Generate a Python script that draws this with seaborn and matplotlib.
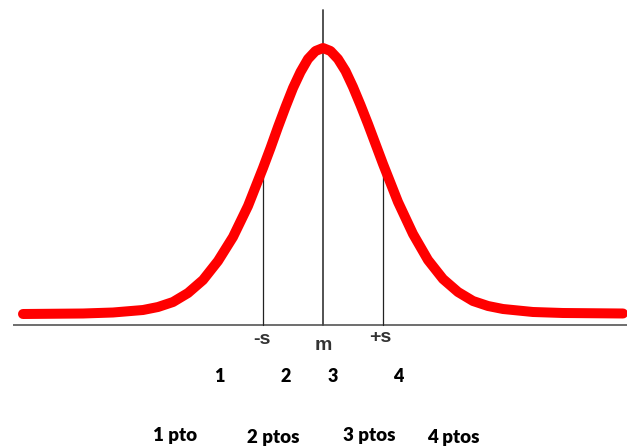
import matplotlib
matplotlib.use('Agg')
import numpy as np
import pandas as pd
import matplotlib.pyplot as plt
import seaborn as sns

# curve: x in standard deviations, height in pixels above the baseline
z = [-5.0, -4.0, -3.5, -3.0, -2.75, -2.5, -2.25, -2.0, -1.75, -1.5, -1.25, -1.0,
     -0.875, -0.75, -0.625, -0.5, -0.375, -0.25, -0.125, 0.0,
     0.125, 0.25, 0.375, 0.5, 0.625, 0.75, 0.875, 1.0,
     1.25, 1.5, 1.75, 2.0, 2.25, 2.5, 2.75, 3.0, 3.5, 4.0, 5.0]
height = [0, 0.5, 1.5, 4, 7, 12, 21, 34, 53, 77, 108, 146,
          166, 187, 207, 226, 242, 255, 263, 266,
          263, 255, 243, 227, 209, 190, 170, 150,
          112, 80, 54, 35, 22, 13, 8, 5, 2, 1, 0.5]

axis_labels = ["-s", "m", "+s"]
axis_label_x = [-1.02, 0.0, 0.95]
zone_numbers = ["1", "2", "3", "4"]
zone_x = [-1.72, -0.63, 0.17, 1.25]
point_labels = ["1 pto", "2 ptos", "3 ptos", "4 ptos"]
point_x = [-2.47, -0.83, 0.77, 2.17]

df = pd.DataFrame({"z": z, "h": height})

sns.set_style("white")
plt.rcParams['font.family'] = ['Lato', 'DejaVu Sans']

fig = plt.figure(figsize=(6.27, 4.46), dpi=100)
ax = fig.add_axes([0, 0, 1, 1])

# horizontal axis and the vertical guides
ax.plot([-5.17, 5.1], [-11, -11], color="#555555", lw=1.2, solid_capstyle="butt")
ax.plot([0, 0], [-11, 304], color="#444444", lw=1.3)
for s in (-1, 1):
    hs = np.interp(s, z, height)
    ax.plot([s, s], [-11, hs], color="#222222", lw=0.9)

sns.lineplot(data=df, x="z", y="h", ax=ax, color="#ff0000", lw=7.2,
             solid_capstyle="round", solid_joinstyle="round")

for lab, x, y in zip(axis_labels, axis_label_x, [-25, -32, -24]):
    ax.text(x, y, lab, ha="center", va="center", fontsize=14, fontweight="bold",
            color="#333333", family=['Liberation Sans', 'DejaVu Sans'])
for lab, x in zip(zone_numbers, zone_x):
    ax.text(x, -63, lab, ha="center", va="center", fontsize=13, fontweight="heavy", color="black")
for lab, x, y in zip(point_labels, point_x, [-122, -123, -122, -124]):
    ax.text(x, y, lab, ha="center", va="center", fontsize=13.5, fontweight="heavy", color="black")

ax.set_xlim((0 - 323) / 60, (627 - 323) / 60)
ax.set_ylim(314 - 446, 314)
ax.set_axis_off()

fig.savefig("out.png", dpi=100)
